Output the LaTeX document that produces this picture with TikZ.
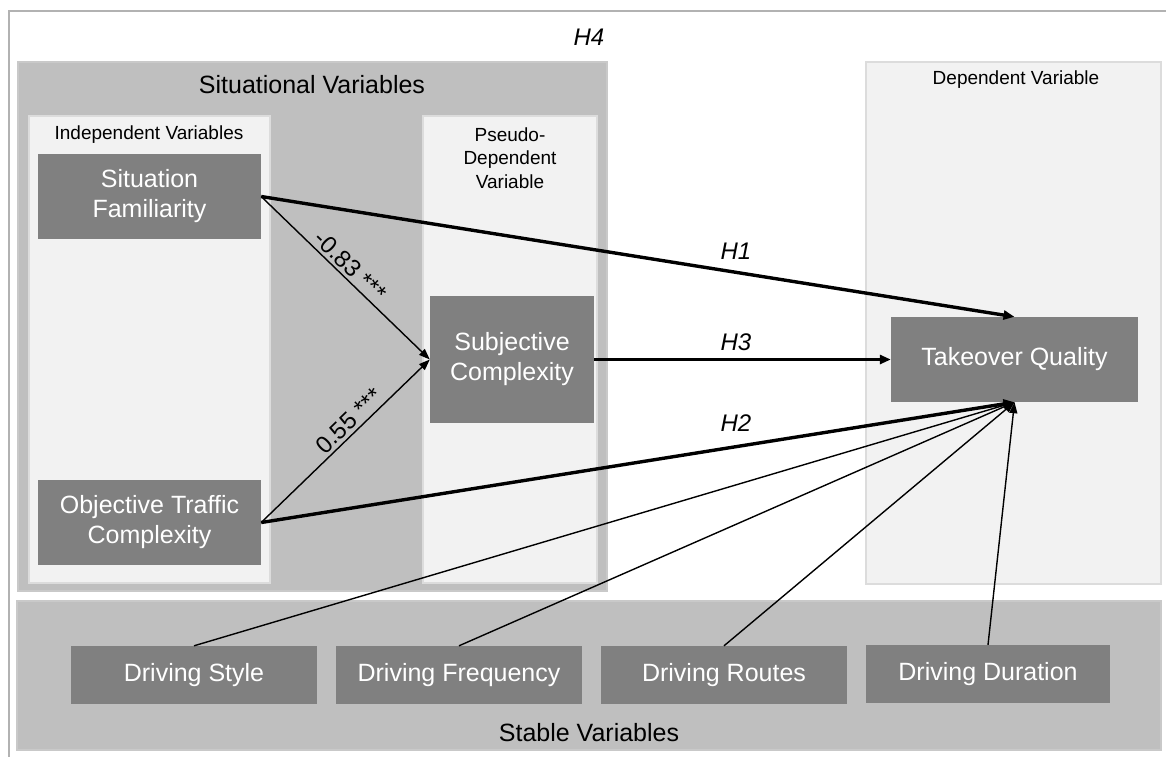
\documentclass[tikz,border=0pt]{standalone}
\usepackage{fontspec}
\setmainfont{Liberation Sans}
\usetikzlibrary{arrows.meta}
\definecolor{darkbox}{HTML}{808080}
\definecolor{midgray}{HTML}{BFBFBF}
\definecolor{midline}{HTML}{C9C9C9}
\definecolor{lightpanel}{HTML}{F2F2F2}
\definecolor{panelline}{HTML}{DCDCDC}
\definecolor{frameline}{HTML}{B2B2B2}
\begin{document}
\begin{tikzpicture}[x=1pt,y=-1pt,
  varbox/.style={fill=darkbox, text=white, align=center, inner sep=0pt,
    font=\fontsize{25}{30}\selectfont},
  lightpanel/.style={fill=lightpanel, draw=panelline, line width=1.2pt, inner sep=0pt},
  grouppanel/.style={fill=midgray, draw=midline, line width=1.2pt, inner sep=0pt},
  bigtitle/.style={font=\fontsize{25}{30}\selectfont, inner sep=0pt, align=center},
  smalltitle/.style={font=\fontsize{19}{23.5}\selectfont, inner sep=0pt, align=center},
  hyplabel/.style={font=\fontsize{24}{28}\selectfont\itshape, inner sep=0pt},
  coeflabel/.style={font=\fontsize{24}{28}\selectfont, sloped, above, inner sep=3pt},
  thinarrow/.style={line width=1.4pt, -{Triangle[length=11pt,width=8pt]}},
  thickarrow/.style={line width=3.4pt, -{Triangle[length=11pt,width=9pt]}},
  thinline/.style={line width=1.4pt}
]
\path[use as bounding box] (0,0) rectangle (1166,756);
\clip (0,0) rectangle (1166,756);
\fill[white] (0,0) rectangle (1166,756);
\draw[frameline, line width=1.5pt] (9,11) rectangle (1180,770);

% group panels
\node[grouppanel, minimum width=589, minimum height=529] (situ) at (312.5,326.5) {};
\node[grouppanel, minimum width=1144, minimum height=149] (stable) at (589,675.5) {};
\node[lightpanel, minimum width=241, minimum height=467] (indep) at (149.5,349.5) {};
\node[lightpanel, minimum width=174, minimum height=467] (pseudo) at (510,349.5) {};
\node[lightpanel, minimum width=295, minimum height=522] (dep) at (1013.5,323) {};

% titles
\node[hyplabel] (h4) at (589,37) {H4};
\node[bigtitle] (situtitle) at (312,85) {Situational Variables};
\node[smalltitle] (indeptitle) at (149,135) {Independent Variables};
\node[smalltitle] (pseudotitle) at (510,158) {Pseudo-\\Dependent\\Variable};
\node[smalltitle] (deptitle) at (1016,80) {Dependent Variable};
\node[bigtitle] (stabletitle) at (589,733) {Stable Variables};

% variable boxes
\node[varbox, minimum width=223, minimum height=85] (sf) at (149.5,196.5) {Situation\\Familiarity};
\node[varbox, minimum width=223, minimum height=85] (otc) at (149.5,522.5) {Objective Traffic\\Complexity};
\node[varbox, minimum width=164, minimum height=127] (sc) at (512,359.5) {Subjective\\Complexity};
\node[varbox, minimum width=247, minimum height=85] (tq) at (1014.5,359.5) {Takeover Quality};
\node[varbox, minimum width=246, minimum height=58] (ds) at (194,675) {Driving Style};
\node[varbox, minimum width=246, minimum height=58] (dfq) at (459,675) {Driving Frequency};
\node[varbox, minimum width=246, minimum height=58] (dr) at (724,675) {Driving Routes};
\node[varbox, minimum width=244, minimum height=58] (dd) at (988,674) {Driving Duration};

% connectors
\draw[thinarrow] (sf.east) -- node[coeflabel, pos=0.48] {-0.83 ***} (sc.west);
\draw[thinarrow] (otc.east) -- node[coeflabel, pos=0.57] {0.55 ***} (sc.west);
\draw[thickarrow] (sf.east) -- (tq.north);
\draw[thickarrow] (sc.east) -- (tq.west);
\draw[thickarrow] (otc.east) -- (tq.south);
\draw[thinarrow] (ds.north) -- (tq.south);
\draw[thinarrow] (dfq.north) -- (tq.south);
\draw[thinarrow] (dr.north) -- (tq.south);
\draw[thinarrow] (dd.north) -- (tq.south);

% hypothesis labels
\node[hyplabel] (h1) at (736,251) {H1};
\node[hyplabel] (h3) at (736,342) {H3};
\node[hyplabel] (h2) at (736,423) {H2};
\end{tikzpicture}
\end{document}
